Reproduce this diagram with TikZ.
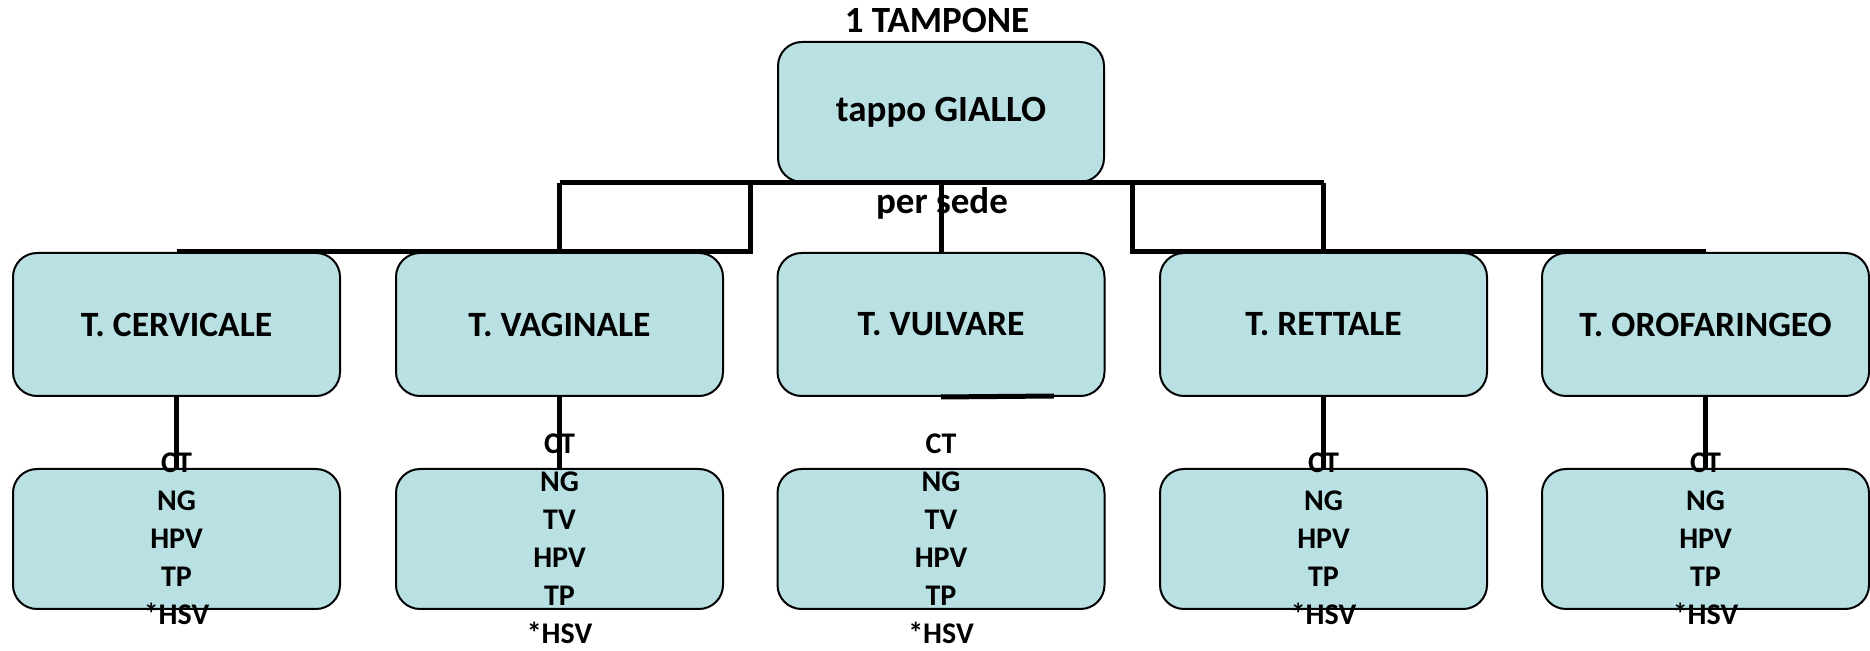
\documentclass[tikz,border=0pt]{standalone}
\usepackage{fontspec}
\setmainfont{Carlito}
\definecolor{boxfill}{RGB}{185,224,227}
\begin{document}
\begin{tikzpicture}[x=0.5pt,y=-0.5pt,
  box/.style={draw=black,line width=1pt,fill=boxfill,rounded corners=12pt,inner sep=0pt,font=\bfseries},
  topbox/.style={box,minimum width=163pt,minimum height=70pt,font=\fontsize{18.5}{22}\selectfont\bfseries},
  sitebox/.style={box,minimum width=163.5pt,minimum height=71.5pt,font=\fontsize{17.8}{21}\selectfont\bfseries},
  testbox/.style={box,minimum width=163.5pt,minimum height=70pt},
  testtxt/.style={align=center,inner sep=0pt,font=\fontsize{15}{19}\selectfont\bfseries},
  lbl/.style={inner sep=0pt,font=\fontsize{18.5}{22}\selectfont\bfseries},
  conn/.style={line width=2.5pt}]
\useasboundingbox (0,0) rectangle (1870,651);
\node[lbl] (title) at (937,21) {1 TAMPONE};
\node[topbox] (top) at (941,112) {tappo GIALLO};
\node[sitebox] (c1) at (176.5,324.5) {T. CERVICALE};
\node[sitebox] (c2) at (559.5,324.5) {T. VAGINALE};
\node[sitebox] (c3) at (941,324.5) {T. VULVARE};
\node[sitebox] (c4) at (1323.5,324.5) {T. RETTALE};
\node[sitebox] (c5) at (1705.5,324.5) {T. OROFARINGEO};
\node[testbox] (d1) at (176.5,539) {};
\node[testbox] (d2) at (559.5,539) {};
\node[testbox] (d3) at (941,539) {};
\node[testbox] (d4) at (1323.5,539) {};
\node[testbox] (d5) at (1705.5,539) {};
\node[testtxt] (t1) at (d1.center) {CT\\NG\\HPV\\TP\\*HSV};
\node[testtxt] (t2) at (d2.center) {CT\\NG\\TV\\HPV\\TP\\*HSV};
\node[testtxt] (t3) at (d3.center) {CT\\NG\\TV\\HPV\\TP\\*HSV};
\node[testtxt] (t4) at (d4.center) {CT\\NG\\HPV\\TP\\*HSV};
\node[testtxt] (t5) at (d5.center) {CT\\NG\\HPV\\TP\\*HSV};
\node[lbl] (sede) at (942,203) {per sede};
\coordinate (jl) at (750,181);
\coordinate (jr) at (1132,181);
\coordinate (vend) at (1054,396);
\draw[conn] (c2.center |- top.south) -- (c4.center |- top.south);
\draw[conn] (c2.center |- top.south) -- (c2.north);
\draw[conn] (top.south) -- (c3.north);
\draw[conn] (jl) -- (jl |- c1.north) -- (c1.north);
\draw[conn] (jr) -- (jr |- c5.north) -- (c5.north);
\draw[conn] (c4.center |- top.south) -- (c4.north);
\draw[conn] (c1.south) -- (d1.north);
\draw[conn] (c2.south) -- (d2.north);
\draw[conn] (c3.south) -- (vend);
\draw[conn] (c4.south) -- (d4.north);
\draw[conn] (c5.south) -- (d5.north);
\end{tikzpicture}
\end{document}
